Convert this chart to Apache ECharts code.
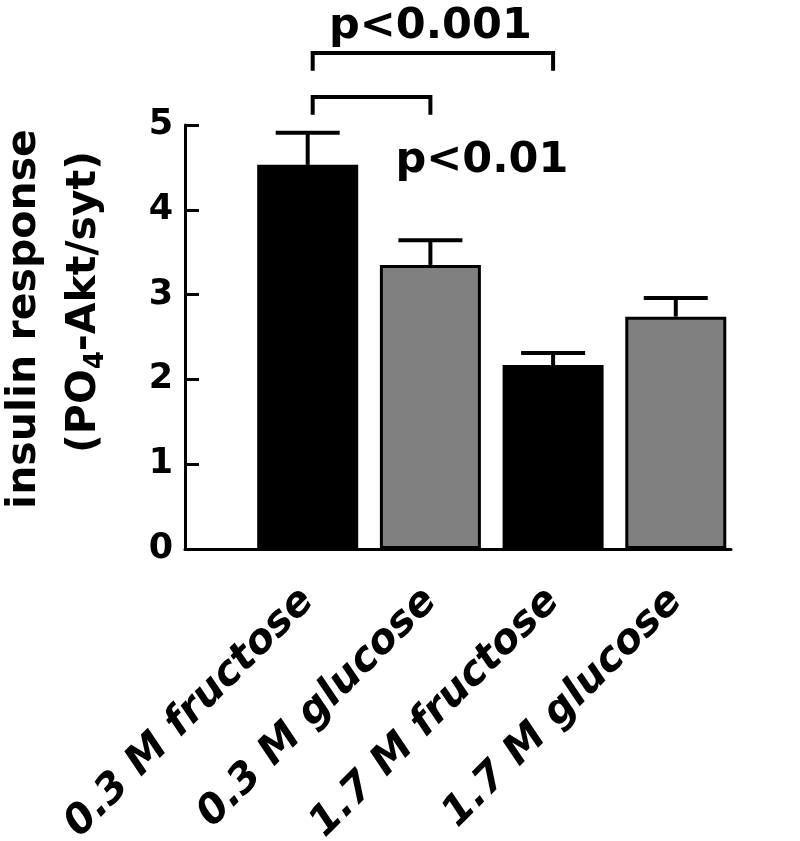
<!DOCTYPE html>
<html><head><meta charset="utf-8">
<script src="https://cdn.jsdelivr.net/npm/echarts@6/dist/echarts.min.js"></script>
<style>html,body{margin:0;padding:0;background:#fff}#c{width:800px;height:841px}</style>
</head><body><div id="c"></div>
<script>
// ---- data ----
const categories = ['0.3 M fructose', '0.3 M glucose', '1.7 M fructose', '1.7 M glucose'];
const means = [4.53, 3.35, 2.17, 2.74];
const errors = [0.38, 0.29, 0.14, 0.22];
const barColors = ['#000000', '#808080', '#000000', '#808080'];
const yTicks = [0, 1, 2, 3, 4, 5];
const bracketFrom = [0, 0];
const bracketTo = [1, 2];
const bracketTop = [5.33, 5.85];
const bracketLeg = [0.21, 0.21];
const pLabels = ['p<0.01', 'p<0.001'];
const pLabelX = [1.42, 1.0];
const pLabelY = [4.32, 5.91];

const FONT = '"DejaVu Sans", "Liberation Sans", Arial, sans-serif';
const chart = echarts.init(document.getElementById('c'), null, { renderer: 'canvas' });

const option = {
  animation: false,
  backgroundColor: '#ffffff',
  grid: { left: 185, right: 69, top: 125, bottom: 292, containLabel: false, outerBoundsMode: 'none' },
  xAxis: {
    type: 'value', min: -1, max: 3.45, interval: 1,
    axisLine: { show: true, onZero: false, lineStyle: { color: '#000', width: 3 } },
    axisTick: { show: false },
    splitLine: { show: false },
    axisLabel: {
      rotate: 45, margin: 46, color: '#000',
      fontFamily: FONT, fontSize: 41, fontWeight: 'bold', fontStyle: 'italic',
      showMaxLabel: false,
      formatter: v => (Number.isInteger(v) && categories[v] !== undefined) ? categories[v] : ''
    }
  },
  yAxis: {
    type: 'value', min: yTicks[0], max: yTicks[yTicks.length - 1], interval: 1,
    axisLine: { show: true, onZero: false, lineStyle: { color: '#000', width: 3 } },
    axisTick: { show: true, inside: true, length: 14, lineStyle: { color: '#000', width: 3 } },
    splitLine: { show: false },
    axisLabel: { margin: 12, color: '#000', fontFamily: FONT, fontSize: 35, fontWeight: 'bold' }
  },
  graphic: [
    {
      type: 'text', x: 24, y: 319, rotation: Math.PI / 2,
      style: { text: 'insulin response', font: 'bold 41px ' + FONT, fill: '#000', align: 'center', verticalAlign: 'middle' }
    },
    {
      type: 'text', x: 84, y: 302, rotation: Math.PI / 2,
      style: {
        text: '{t|(PO}{s|4}{t|-Akt/syt)}', align: 'center', verticalAlign: 'middle',
        rich: {
          t: { fontFamily: FONT, fontSize: 41, fontWeight: 'bold', fill: '#000', lineHeight: 50, verticalAlign: 'middle' },
          s: { fontFamily: FONT, fontSize: 26, fontWeight: 'bold', fill: '#000', lineHeight: 26, verticalAlign: 'bottom' }
        }
      }
    }
  ],
  series: [
    {
      type: 'bar', barWidth: 101,
      itemStyle: { borderColor: '#000', borderWidth: 3 },
      data: means.map((v, i) => ({ value: [i, v], itemStyle: { color: barColors[i] } })),
      z: 2
    },
    {
      type: 'custom', z: 3, clip: false,
      data: means.map((m, i) => [i, m, errors[i]]),
      encode: { x: 0, y: 1 },
      renderItem: (params, api) => {
        const x = api.value(0), m = api.value(1), e = api.value(2);
        const p0 = api.coord([x, m]);
        const p1 = api.coord([x, m + e]);
        const half = 32;
        const st = { stroke: '#000', lineWidth: 4 };
        return {
          type: 'group', children: [
            { type: 'line', shape: { x1: p0[0], y1: p0[1], x2: p1[0], y2: p1[1] }, style: st },
            { type: 'line', shape: { x1: p1[0] - half, y1: p1[1], x2: p1[0] + half, y2: p1[1] }, style: st }
          ]
        };
      }
    },
    {
      type: 'custom', z: 3, clip: false,
      data: bracketFrom.map((f, i) => [f, bracketTop[i], bracketTo[i], bracketLeg[i]]),
      encode: { x: 0, y: 1 },
      renderItem: (params, api) => {
        const f = api.value(0), top = api.value(1), t = api.value(2), leg = api.value(3);
        const a = api.coord([f, top]);
        const b = api.coord([t, top]);
        const ly = api.coord([f, top - leg])[1];
        return {
          type: 'polyline',
          shape: { points: [[a[0] + 5, ly], [a[0] + 5, a[1]], [b[0], b[1]], [b[0], ly]] },
          style: { stroke: '#000', lineWidth: 4, fill: null, lineJoin: 'miter' }
        };
      }
    },
    {
      type: 'custom', z: 4, clip: false,
      data: pLabelX.map((x, i) => [x, pLabelY[i]]),
      encode: { x: 0, y: 1 },
      renderItem: (params, api) => {
        const p = api.coord([api.value(0), api.value(1)]);
        return {
          type: 'text',
          style: {
            text: pLabels[params.dataIndex], x: p[0], y: p[1],
            font: 'bold 43px ' + FONT, fill: '#000', align: 'center', verticalAlign: 'bottom'
          }
        };
      }
    }
  ]
};
chart.setOption(option);
</script>
</body></html>
